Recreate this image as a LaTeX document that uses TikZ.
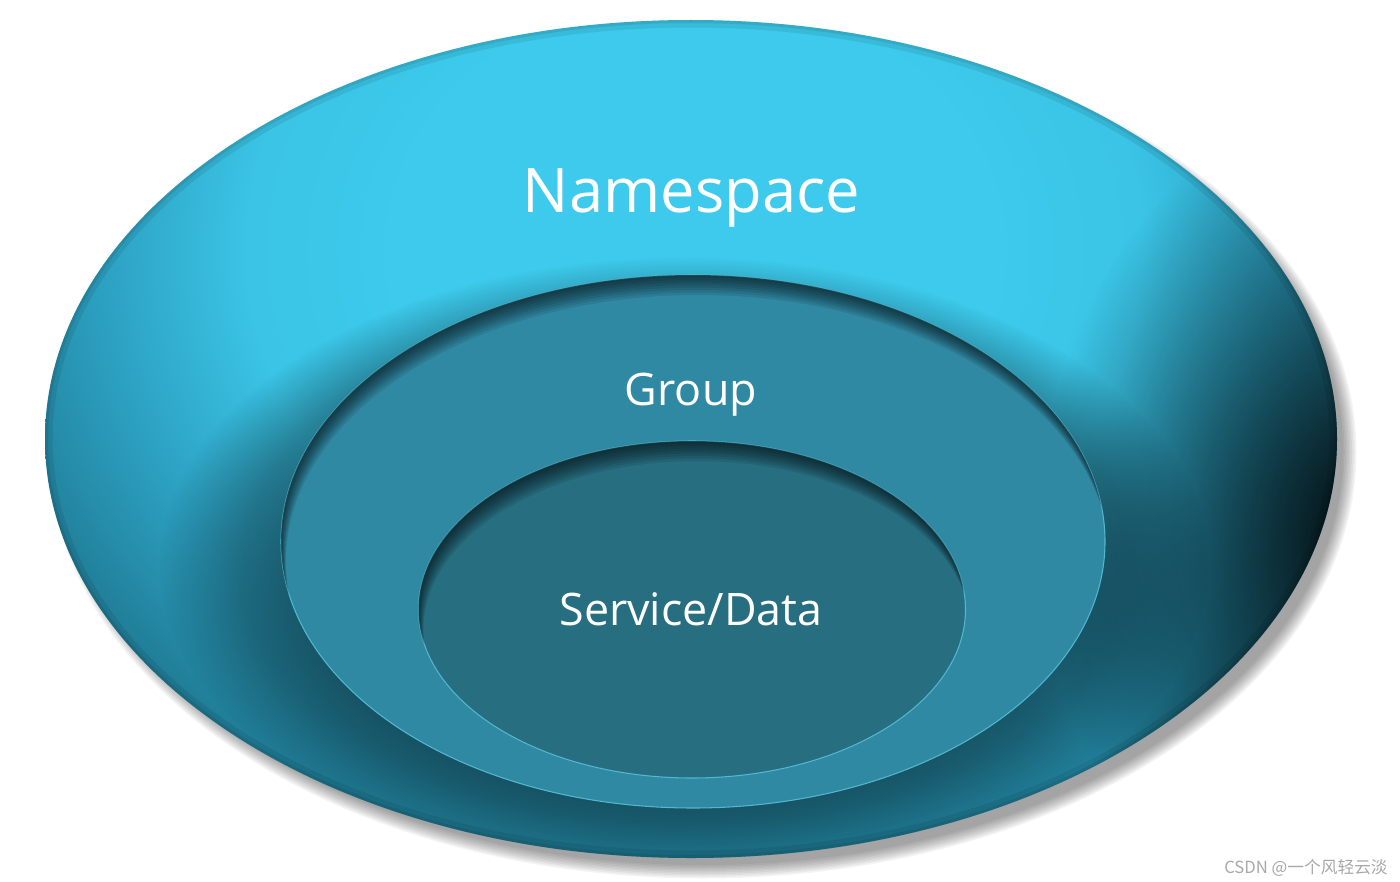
\documentclass[tikz,border=0pt]{standalone}
\usepackage{fontspec}
\setmainfont{Open Sans}
\newfontfamily\cjkfont{Noto Sans CJK SC}
\usetikzlibrary{positioning,fadings}
\definecolor{nslight}{HTML}{3DCAEC}
\definecolor{nsmid}{HTML}{2C9FC0}
\definecolor{nsdeep}{HTML}{1F7A93}
\definecolor{groupteal}{HTML}{3089A2}
\definecolor{coreteal}{HTML}{276E80}
\definecolor{rimline}{HTML}{52B8D0}
\definecolor{markgrey}{HTML}{A8A8A8}
\pgfdeclareradialshading{nsbowl}{\pgfpoint{0bp}{0bp}}{%
  color(0bp)=(nslight); color(10bp)=(nslight); color(15bp)=(nslight!85!nsmid);
  color(20bp)=(nsmid); color(25bp)=(nsdeep); color(50bp)=(nsdeep)}
\pgfdeclareradialshading{flankshade}{\pgfpointorigin}{%
  color(0bp)=(pgftransparent!0); color(25bp)=(pgftransparent!100); color(50bp)=(pgftransparent!100)}
\pgfdeclarefading{flankfade}{\pgfuseshading{flankshade}}
\pgfdeclareradialshading{bandshade}{\pgfpointorigin}{%
  color(0bp)=(pgftransparent!0); color(17bp)=(pgftransparent!0); color(21bp)=(pgftransparent!40);
  color(25bp)=(pgftransparent!100); color(50bp)=(pgftransparent!100)}
\pgfdeclarefading{bandfade}{\pgfuseshading{bandshade}}

\begin{document}
\begin{tikzpicture}[
    layer text/.style={text=white, inner sep=0pt, anchor=base},
    rim/.style={draw=rimline, line width=0.6pt}
]
\useasboundingbox (0,0) rectangle (28,-17.64);
\coordinate (nsc) at (13.82,-8.78);
\coordinate (grc) at (13.86,-10.83);
\coordinate (svc) at (13.84,-12.19);

% drop shadow of the outer disc
\foreach \k in {0,...,9}
  \fill[black, opacity=0.045] ([shift={(0.24,-0.26)}]nsc) ellipse ({12.8+0.03*\k} and {8.26+0.03*\k});

% outer disc
\begin{scope}
  \clip (nsc) ellipse (12.92 and 8.38);
  \shade[shading=nsbowl] (13.9,-5.0) ellipse (15 and 12.5);
  % dark band under the group layer
  \fill[black, fill opacity=0.55, path fading=bandfade] (13.7,-11.3) ellipse (10.5 and 6.15);
  % dark right flank
  \fill[black, fill opacity=0.9, path fading=flankfade] (27.3,-10.6) ellipse (6.5 and 8.5);
  % rim
  \draw[black, opacity=0.08, line width=0.3cm] (nsc) ellipse (12.92 and 8.38);
  \draw[black, opacity=0.08, line width=0.12cm] (nsc) ellipse (12.92 and 8.38);
\end{scope}

% group layer
\fill[groupteal] (grc) ellipse (8.24 and 5.33);
\draw[rim] (grc) ellipse (8.24 and 5.33);
\begin{scope}
  \clip (grc) ellipse (8.24 and 5.33);
  \foreach \d in {0.05,0.1,...,0.45}
    \fill[black, opacity=0.09, even odd rule] (grc) ellipse (8.5 and 5.6)
      ([shift={(0.25*\d,-\d)}]grc) ellipse (8.24 and 5.33);
\end{scope}

% service/data layer
\fill[coreteal] (svc) ellipse (5.47 and 3.37);
\draw[rim] (svc) ellipse (5.47 and 3.37);
\begin{scope}
  \clip (svc) ellipse (5.47 and 3.37);
  \foreach \d in {0.05,0.1,...,0.45}
    \fill[black, opacity=0.09, even odd rule] (svc) ellipse (5.7 and 3.6)
      ([shift={(0.25*\d,-\d)}]svc) ellipse (5.47 and 3.37);
\end{scope}

% labels
\node[layer text, font=\fontsize{35}{42}\selectfont] (nslabel) at (13.83,-4.24) {Namespace};
\node[layer text, font=\fontsize{25.5}{30}\selectfont] (grlabel) at (13.82,-8.1) {Group};
\node[layer text, font=\fontsize{25.5}{30}\selectfont] (svlabel) at (13.82,-12.5) {Service/Data};

\node[text=markgrey, inner sep=0pt, anchor=base east, font=\cjkfont\fontsize{9.5}{11}\selectfont] (mark) at (27.76,-17.46) {CSDN @一个风轻云淡};
\end{tikzpicture}
\end{document}
